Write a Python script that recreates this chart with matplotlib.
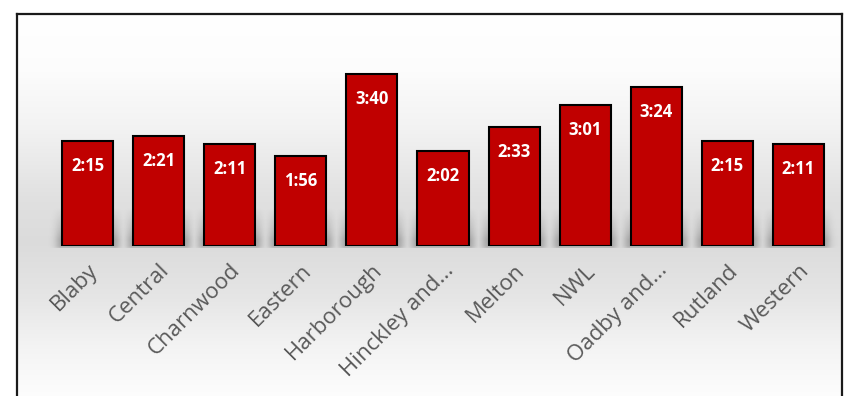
import matplotlib.pyplot as plt
import numpy as np

# dados
areas = ["Blaby", "Central", "Charnwood", "Eastern", "Harborough", "Hinckley and...",
         "Melton", "NWL", "Oadby and...", "Rutland", "Western"]
tempos = ["2:15", "2:21", "2:11", "1:56", "3:40", "2:02", "2:33", "3:01", "3:24", "2:15", "2:11"]

segundos = np.array([int(t.split(":")[0]) * 60 + int(t.split(":")[1]) for t in tempos])

W, H = 845, 396
fig = plt.figure(figsize=(W / 100, H / 100), dpi=100)
fig.patch.set_facecolor("white")

# fundo com gradiente + moldura
bg = fig.add_axes([17 / W, -0.05, (842 - 17) / W, 1 - 14 / H + 0.05])
py = np.array([14, 70, 130, 200, 245, 300, 350, 390, 420])
pv = np.array([1.0, 0.99, 0.95, 0.88, 0.86, 0.90, 0.955, 0.985, 1.0])
yy = np.linspace(14, 420, 400)
grad = np.interp(yy, py, pv)
img = np.stack([grad, grad, grad], axis=-1)[:, None, :].repeat(2, axis=1)
bg.imshow(img, aspect="auto", extent=[0, 1, 0, 1], origin="upper")
bg.set_xticks([])
bg.set_yticks([])
for s in ["left", "top", "right"]:
    bg.spines[s].set_linewidth(1.6)
    bg.spines[s].set_color("#1a1a1a")
bg.spines["bottom"].set_visible(False)

# eixo principal
ax = fig.add_axes([17 / W, (H - 246) / H, (842 - 17) / W, (246 - 14) / H])
ax.patch.set_alpha(0)
x0, dx = 87.5, 71.1
ax.set_xlim((17 - x0) / dx, (842 - x0) / dx)
ax.set_ylim(0, 232 / 0.78)
x = np.arange(len(areas))
largura = 0.72

# sombra desfocada atrás das barras
xs = np.linspace(ax.get_xlim()[0], ax.get_xlim()[1], 900)
ys = np.linspace(-2, 50, 80)
ax_alpha = np.zeros_like(xs)
for i in x:
    d = np.maximum(np.abs(xs - i) - largura / 2, 0) * dx
    ax_alpha = np.maximum(ax_alpha, np.exp(-(d / 7.0) ** 2))
ay = np.interp(ys, [-2, 0, 8, 20, 50], [0.15, 0.22, 0.24, 0.15, 0.0])
alpha = ay[:, None] * ax_alpha[None, :]
sombra = np.zeros((len(ys), len(xs), 4))
sombra[..., 3] = alpha
ax.imshow(sombra, aspect="auto", origin="lower", clip_on=False,
          extent=[xs[0], xs[-1], -2, 50], zorder=1, interpolation="bilinear")

ax.bar(x, segundos, width=largura, color="#c00000", edgecolor="black",
       linewidth=1.5, zorder=2)

for xi, s, t in zip(x, segundos, tempos):
    ax.text(xi, s - 25 / 0.78, t, ha="center", va="center", color="white",
            fontsize=12, fontweight="bold", family="Open Sans", zorder=3)

ax.set_xticks(x)
ax.set_xticklabels(areas, rotation=45, ha="right", rotation_mode="anchor",
                   color="#595959", fontsize=16, family="Open Sans")
ax.tick_params(axis="x", length=0, pad=10)
ax.set_yticks([])
for s in ax.spines.values():
    s.set_visible(False)

plt.savefig("out.png", dpi=100)
